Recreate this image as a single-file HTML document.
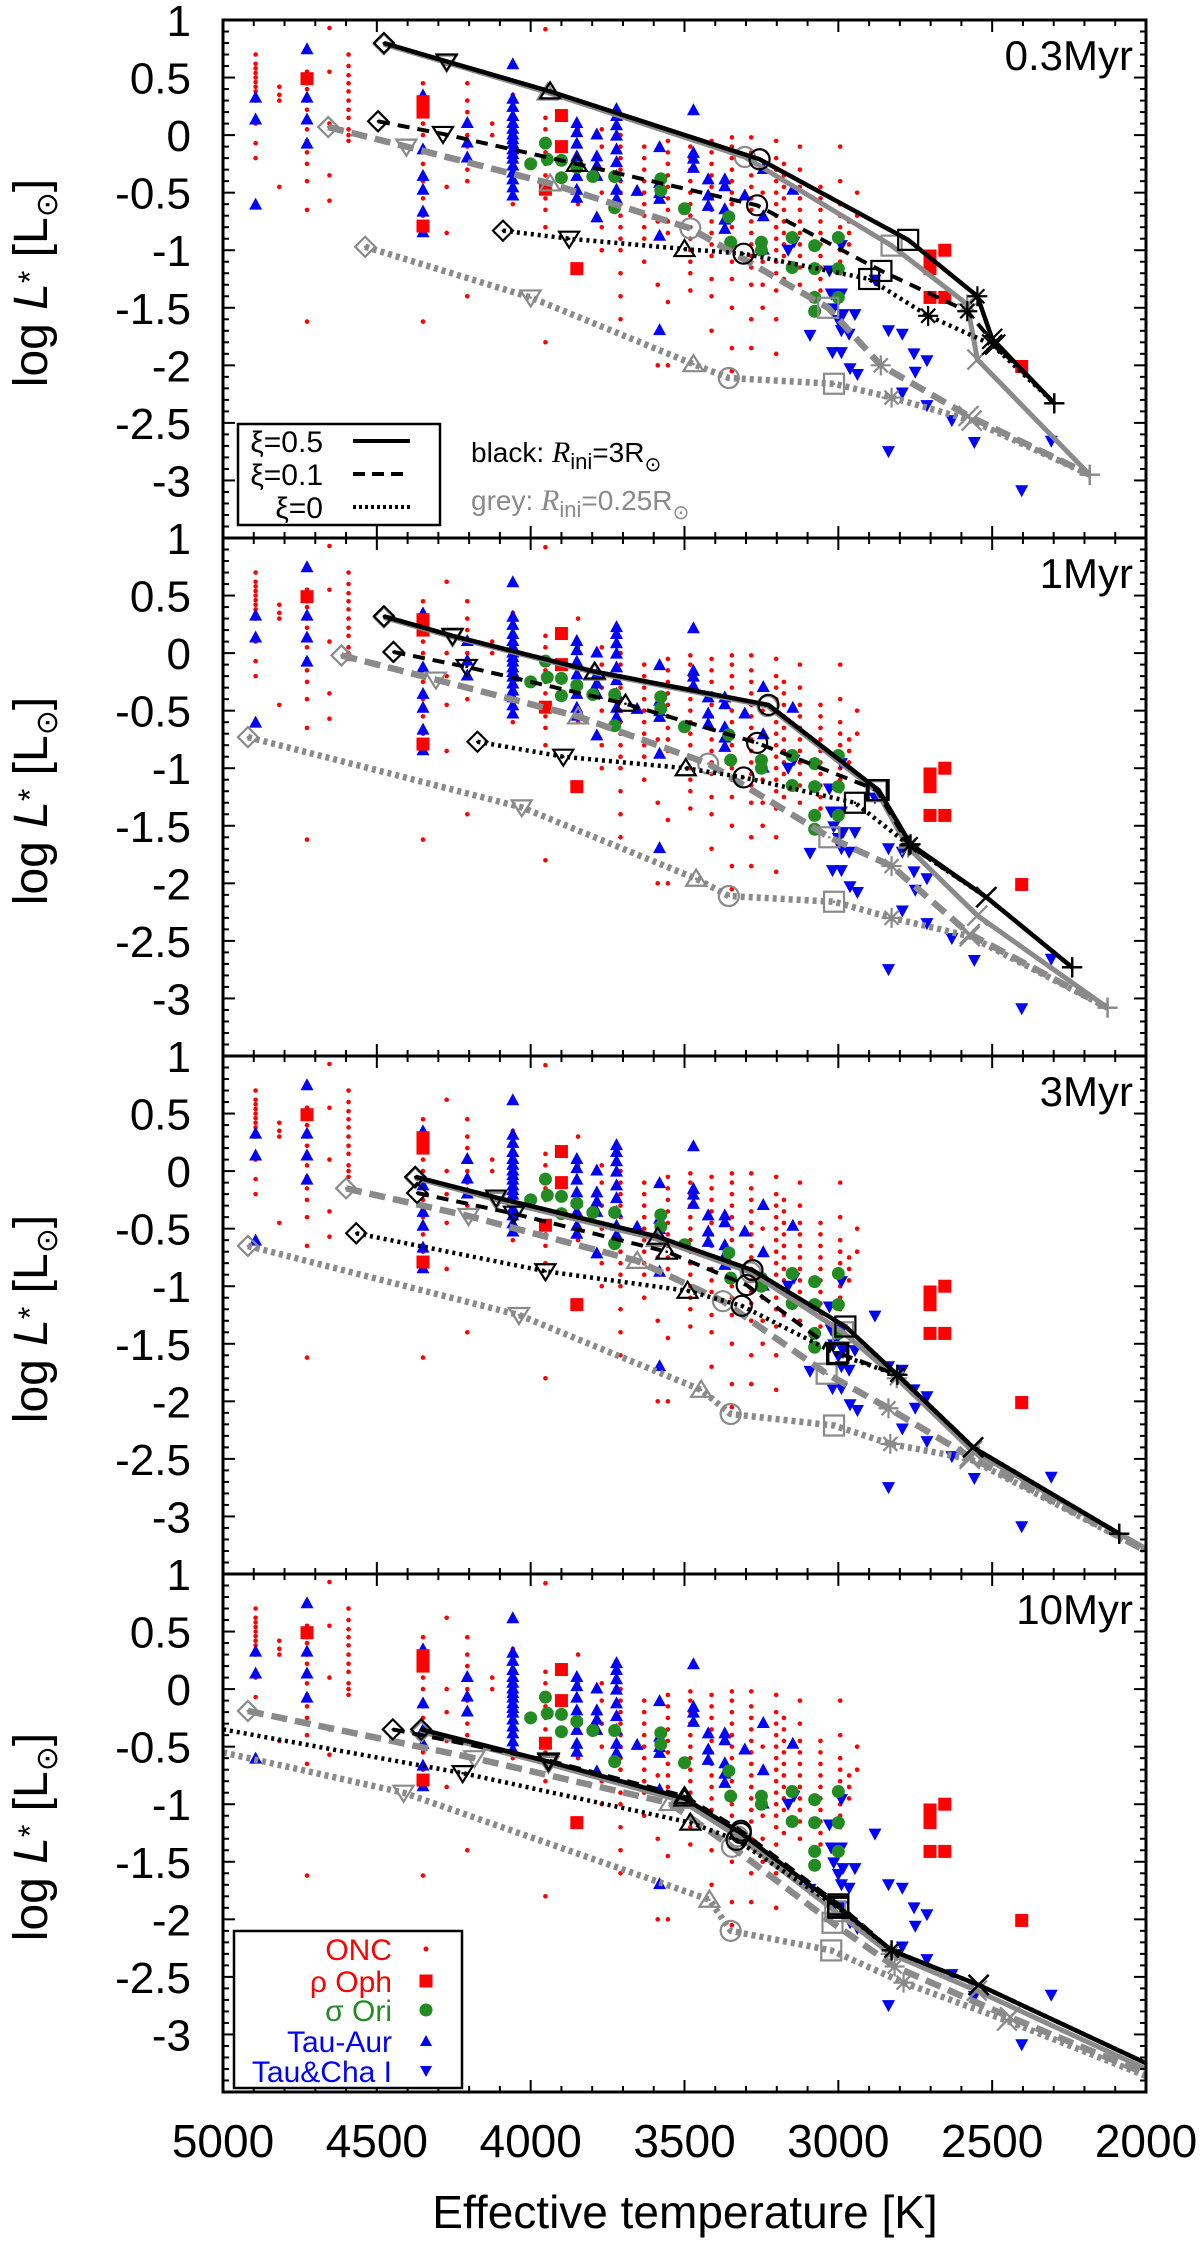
<!DOCTYPE html>
<html><head><meta charset="utf-8"><title>HR diagram panels</title>
<style>
html,body{margin:0;padding:0;background:#fff;}
svg{display:block;}
text{font-family:"Liberation Sans",sans-serif;}
</style></head>
<body>
<svg id="chart" xmlns="http://www.w3.org/2000/svg" width="1200" height="2241" viewBox="0 0 1200 2241"></svg>
<script>
// ---------- observational data ----------
const oncT = [4894,4817,4727,4654,4592,4350,4273,4206,4125,4058,3952,3846,3769,3708,3631,3587,3554,3481,3412,3346,3283,3246,3202,3177,3125,3058,2994,2965,2939];
const oncL = [
 [0.70,0.62,0.58,0.54,0.50,0.46,0.42,0.38,0.30,0.10,-0.07,-0.20],
 [0.42,0.35,0.30,-0.45],
 [0.55,0.45,0.40,0.30,0.22,0.15,0.05,-0.05,-0.15,-0.25,-0.40,-0.65,-1.62],
 [0.93,0.55,0.10,-0.35,-0.57],
 [0.70,0.60,0.52,0.45,0.38,0.30,0.22,0.15,0.05,0.0,-0.05],
 [0.45,0.35,0.20,0.10,0.0,-0.15,-0.25,-0.40,-0.55,-0.70,-0.85,-1.62],
 [0.62,0.0,-0.20,-0.45,-0.85],
 [0.45,0.30,0.20,0.10,0.0,-0.10,-0.20,-0.30,-0.40,-1.40],
 [0.10,0.0],
 [0.35,0.10,-0.20,-0.40,-0.60],
 [0.92,0.15,0.05,-0.05,-0.15,-0.25,-0.35,-0.45,-0.55,-0.65,-0.80,-1.80],
 [0.30,0.05,-0.20,-0.50,-0.60],
 [0.05,-0.10,-0.30,-0.50,-0.80,-1.00],
 [0.0,-0.1,-0.2,-0.3,-0.4,-0.5,-0.6,-0.7,-0.8,-0.9,-1.0,-1.2,-1.4,-1.6],
 [-0.1,-0.2,-0.3,-0.4,-0.5,-0.6,-0.7,-0.8,-0.9,-1.1],
 [-0.75,-1.3,-2.0],
 [-0.05,-0.15,-0.25,-0.35,-0.45,-0.55,-0.65,-0.75,-0.85,-1.45,-2.0],
 [-0.02,-0.1,-0.2,-0.3,-0.4,-0.5,-0.6,-0.7,-0.8,-0.9,-1.0,-1.1,-1.2,-1.35],
 [-0.05,-0.15,-0.25,-0.35,-0.45,-0.55,-0.65,-0.75,-0.85,-0.95,-1.05,-1.25,-1.4,-1.7],
 [-0.02,-0.1,-0.2,-0.3,-0.4,-0.5,-0.6,-0.7,-0.8,-0.9,-1.0,-1.1,-1.25,-1.5,-1.85,-2.05],
 [-0.02,-0.15,-0.25,-0.35,-0.45,-0.55,-0.65,-0.75,-0.85,-0.95,-1.05,-1.15,-1.3,-1.6,-1.85],
 [-0.3,-0.5,-0.7,-0.9,-1.1,-1.3,-1.5],
 [-0.05,-0.2,-0.3,-0.4,-0.5,-0.6,-0.7,-0.8,-0.9,-1.0,-1.1,-1.2,-1.35,-1.6,-1.9],
 [-0.25,-0.35,-0.45,-0.55,-0.65,-0.75,-0.85,-0.95,-1.05,-1.25],
 [-0.1,-0.3,-0.45,-0.55,-0.65,-0.75,-0.85,-0.95,-1.05,-1.15,-1.3],
 [-0.45,-0.55,-0.65,-0.75,-0.85,-0.95,-1.05,-1.15,-1.25,-1.35],
 [-0.1,-0.4,-0.6,-0.7,-0.8,-0.9,-1.0,-1.1,-1.2],
 [-0.75,-0.85,-0.95],
 [-0.5,-0.7]
];
const ophT = [4727,4350,4350,3900,3900,3952,4350,3850,2702,2702,2654,2702,2654,2404];
const ophL = [0.49,0.29,0.20,0.17,-0.10,-0.47,-0.79,-1.16,-1.05,-1.16,-1.00,-1.41,-1.41,-2.01];
const oriT = [3952,4000,3946,3900,3900,3850,3798,3727,3727,3577,3577,3500,3356,3350,3250,3250,3150,3150,3077,3077,3000,3000,3077,3000,3077];
const oriL = [-0.07,-0.25,-0.21,-0.22,-0.37,-0.28,-0.36,-0.36,-0.63,-0.38,-0.48,-0.64,-0.71,-0.93,-0.93,-1.00,-0.89,-1.15,-0.96,-1.16,-0.89,-1.16,-1.41,-1.41,-1.53];
const tauT = [4894,4894,4894,4727,4727,4727,4727,4350,4350,4350,4350,4350,4350,4206,4206,4206,
 4058,4058,4058,4058,4058,4058,4058,4058,4058,4058,4058,4058,4058,4058,4058,4058,4058,
 3850,3850,3850,3850,3850,3850,3850,3850,3785,3785,3785,3785,3785,
 3721,3721,3721,3721,3721,3721,3721,3721,3721,3654,3581,3581,3581,3581,3581,3581,
 3471,3471,3471,3471,3423,3423,3423,3369,3369,3369,3369,3369,3304,3244,3244,3244,3148];
const tauL = [0.33,0.14,-0.60,0.75,0.33,0.14,-0.07,0.35,-0.12,-0.35,-0.47,-0.66,-0.84,0.11,-0.06,-0.19,
 0.62,0.32,0.25,0.17,0.11,0.06,0.01,-0.03,-0.07,-0.12,-0.16,-0.20,-0.26,-0.32,-0.38,-0.45,-0.52,
 0.11,0.03,-0.07,-0.18,-0.26,-0.35,-0.47,-0.54,0.01,-0.18,-0.26,-0.35,-0.71,
 0.23,0.17,0.09,0.00,-0.12,-0.23,-0.35,-0.47,-0.55,-0.48,-0.10,-0.41,-0.50,-0.55,-0.87,-1.69,
 0.22,-0.15,-0.20,-0.28,-0.38,-0.52,-0.61,-0.38,-0.44,-0.64,-0.73,-0.81,-0.52,-0.29,-0.70,-0.99,-0.47];
const chaT = [2990,3029,3163,3144,3023,2990,3015,2985,2946,3000,2990,2965,3092,3019,2990,2962,2938,2881,2837,2792,2754,2712,2750,2792,2712,2631,2558,2837,2404,2308];
const chaL = [-0.96,-1.18,-1.00,-0.93,-1.38,-1.38,-1.51,-1.56,-1.56,-1.61,-1.70,-1.73,-1.74,-1.89,-1.89,-2.03,-2.08,-1.26,-1.70,-1.73,-1.90,-1.96,-2.06,-2.24,-2.35,-2.48,-2.67,-2.75,-3.09,-2.66];

// ---------- model tracks (per panel) ----------
const panelAges = ["0.3Myr","1Myr","3Myr","10Myr"];
const markerShapes = ["diamond","down","up","circle","square","star","cross","plus"];
// panel 1
const p1BS_T=[4477,4273,3937,3256,2773,2548,2500,2298], p1BS_L=[0.80,0.64,0.38,-0.21,-0.91,-1.40,-1.77,-2.33];
const p1GS_T=[4477,4273,3945,3304,2827,2581,2548,2183], p1GS_L=[0.79,0.63,0.37,-0.19,-0.96,-1.47,-1.95,-2.95];
const p1BD_T=[4496,4285,3850,3264,2860,2581,2490,2298], p1BD_L=[0.12,0.01,-0.25,-0.61,-1.18,-1.53,-1.82,-2.33];
const p1GD_T=[4658,4404,3937,3481,3033,2862,2577,2183], p1GD_L=[0.07,-0.10,-0.42,-0.81,-1.50,-2.00,-2.44,-2.95];
const p1BO_T=[4090,3875,3500,3308,2900,2708,2500,2298], p1BO_L=[-0.83,-0.90,-0.99,-1.03,-1.25,-1.57,-1.82,-2.33];
const p1GO_T=[4538,4000,3471,3356,3014,2827,2567,2183], p1GO_L=[-0.97,-1.41,-1.99,-2.11,-2.16,-2.28,-2.48,-2.95];
// panel 2
const p2BS_T=[4477,4254,3792,3227,2869,2765,2519,2240], p2BS_L=[0.32,0.15,-0.16,-0.45,-1.19,-1.66,-2.12,-2.73];
const p2GS_T=[4477,4254,3792,3230,2875,2773,2548,2125], p2GS_L=[0.31,0.14,-0.17,-0.46,-1.20,-1.69,-2.28,-3.08];
const p2BD_T=[4446,4208,3692,3264,2875,2769,2519,2240], p2BD_L=[0.01,-0.12,-0.44,-0.78,-1.19,-1.67,-2.12,-2.73];
const p2GD_T=[4615,4308,3846,3423,3029,2827,2573,2125], p2GD_L=[-0.02,-0.23,-0.55,-0.96,-1.60,-1.85,-2.44,-3.08];
const p2BO_T=[4173,3894,3496,3308,2946,2769,2519,2240], p2BO_L=[-0.77,-0.90,-1.00,-1.08,-1.30,-1.67,-2.12,-2.73];
const p2GO_T=[4919,4029,3462,3356,3014,2827,2573,2125], p2GO_L=[-0.73,-1.34,-1.96,-2.11,-2.16,-2.30,-2.46,-3.08];
// panel 3
const p3BS_T=[4375,4112,3587,3279,2977,2808,2562,2087], p3BS_L=[-0.05,-0.23,-0.57,-0.86,-1.35,-1.77,-2.40,-3.15];
const p3GS_T=[4375,4112,3590,3285,2985,2810,2565,2000], p3GS_L=[-0.06,-0.25,-0.59,-0.88,-1.40,-1.80,-2.43,-3.28];
const p3BD_T=[4369,4054,3558,3298,3000,2808,2562,2087], p3BD_L=[-0.19,-0.37,-0.70,-0.99,-1.58,-1.77,-2.40,-3.15];
const p3GD_T=[4600,4202,3654,3375,3038,2837,2573,2000], p3GD_L=[-0.15,-0.39,-0.78,-1.13,-1.76,-2.06,-2.48,-3.30];
const p3BO_T=[4567,3952,3490,3314,3004,2808,2562,2087], p3BO_L=[-0.54,-0.87,-1.04,-1.17,-1.59,-1.77,-2.40,-3.15];
const p3GO_T=[4919,4038,3446,3350,3014,2831,2573,2000], p3GO_L=[-0.65,-1.25,-1.90,-2.11,-2.21,-2.37,-2.50,-3.30];
// panel 4
const p4BS_T=[4356,3942,3500,3317,3000,2827,2544,2000], p4BS_L=[-0.35,-0.63,-0.95,-1.25,-1.89,-2.27,-2.57,-3.25];
const p4GS_T=[4356,3942,3510,3327,3010,2830,2550,2000], p4GS_L=[-0.37,-0.65,-0.97,-1.28,-1.93,-2.30,-2.62,-3.30];
const p4BD_T=[4448,3942,3500,3317,3000,2827,2544,2000], p4BD_L=[-0.35,-0.62,-0.93,-1.23,-1.87,-2.27,-2.57,-3.25];
const p4GD_T=[4919,4183,3548,3346,3019,2817,2442,2000], p4GD_L=[-0.19,-0.60,-0.99,-1.37,-2.03,-2.41,-2.85,-3.34];
const p4BO_T=[5000,4221,3481,3331,3000,2827,2544,2000], p4BO_L=[-0.35,-0.73,-1.16,-1.31,-1.90,-2.27,-2.57,-3.25];
const p4GO_T=[5000,4413,3419,3350,3023,2788,2452,2000], p4GO_L=[-0.55,-0.90,-1.83,-2.10,-2.27,-2.55,-2.88,-3.36];

const xTickVals = [5000,4500,4000,3500,3000,2500,2000];
const xTickLabels = ["5000","4500","4000","3500","3000","2500","2000"];
const yTickVals = [1,0.5,0,-0.5,-1,-1.5,-2,-2.5,-3];
const yTickLabels = ["1","0.5","0","-0.5","-1","-1.5","-2","-2.5","-3"];

// ---------- geometry ----------
const X0=223, X1=1146, Y0=20, PH=518, LMAX=1, LMIN=-3.5, TMAX=5000, TMIN=2000;
function xS(T){return X0+(TMAX-T)/(TMAX-TMIN)*(X1-X0);}
function yS(L,p){return Y0+p*PH+(LMAX-L)/(LMAX-LMIN)*PH;}

const NS="http://www.w3.org/2000/svg";
const svg=document.getElementById("chart");
function mk(tag,attrs,parent){const e=document.createElementNS(NS,tag);for(const k in attrs)e.setAttribute(k,attrs[k]);(parent||svg).appendChild(e);return e;}

const GREY="#8a8a8a";
const defs=mk("defs",{});
for(let p=0;p<4;p++){
  const cp=mk("clipPath",{id:"clip"+p},defs);
  mk("rect",{x:X0,y:Y0+p*PH,width:X1-X0,height:PH},cp);
}

function marker(shape,x,y,color,g,sw){
  const s=10; let e;
  if(shape==="diamond") e=mk("polygon",{points:`${x},${y-s} ${x+s},${y} ${x},${y+s} ${x-s},${y}`,fill:"none",stroke:color,"stroke-width":sw},g);
  else if(shape==="down") e=mk("polygon",{points:`${x-s},${y-s*0.7} ${x+s},${y-s*0.7} ${x},${y+s*0.9}`,fill:"none",stroke:color,"stroke-width":sw},g);
  else if(shape==="up") e=mk("polygon",{points:`${x-s},${y+s*0.7} ${x+s},${y+s*0.7} ${x},${y-s*0.9}`,fill:"none",stroke:color,"stroke-width":sw},g);
  else if(shape==="circle") e=mk("circle",{cx:x,cy:y,r:s,fill:"none",stroke:color,"stroke-width":sw},g);
  else if(shape==="square") e=mk("rect",{x:x-s,y:y-s,width:2*s,height:2*s,fill:"none",stroke:color,"stroke-width":sw},g);
  else if(shape==="star") e=mk("path",{d:`M${x-s},${y}H${x+s}M${x},${y-s}V${y+s}M${x-s*0.7},${y-s*0.7}L${x+s*0.7},${y+s*0.7}M${x-s*0.7},${y+s*0.7}L${x+s*0.7},${y-s*0.7}`,stroke:color,"stroke-width":sw},g);
  else if(shape==="cross") e=mk("path",{d:`M${x-s},${y-s}L${x+s},${y+s}M${x-s},${y+s}L${x+s},${y-s}`,stroke:color,"stroke-width":sw},g);
  else e=mk("path",{d:`M${x-s},${y}H${x+s}M${x},${y-s}V${y+s}`,stroke:color,"stroke-width":sw},g);
  if(shape!=="star"&&shape!=="cross"&&shape!=="plus") mk("circle",{cx:x,cy:y,r:1.3,fill:color},g);
  return e;
}

const styles={
  BS:{color:"#000",w:4.5,dash:"",name:"xi05-rini3"},
  GS:{color:GREY,w:5,dash:"",name:"xi05-rini025"},
  BD:{color:"#000",w:4,dash:"12 8",name:"xi01-rini3"},
  GD:{color:GREY,w:6.5,dash:"16 8",name:"xi01-rini025"},
  BO:{color:"#000",w:4.5,dash:"3 4",name:"xi0-rini3"},
  GO:{color:GREY,w:6.5,dash:"4 4",name:"xi0-rini025"}
};
const tracks=[
 {GS:[p1GS_T,p1GS_L],GD:[p1GD_T,p1GD_L],GO:[p1GO_T,p1GO_L],BS:[p1BS_T,p1BS_L],BD:[p1BD_T,p1BD_L],BO:[p1BO_T,p1BO_L]},
 {GS:[p2GS_T,p2GS_L],GD:[p2GD_T,p2GD_L],GO:[p2GO_T,p2GO_L],BS:[p2BS_T,p2BS_L],BD:[p2BD_T,p2BD_L],BO:[p2BO_T,p2BO_L]},
 {GS:[p3GS_T,p3GS_L],GD:[p3GD_T,p3GD_L],GO:[p3GO_T,p3GO_L],BS:[p3BS_T,p3BS_L],BD:[p3BD_T,p3BD_L],BO:[p3BO_T,p3BO_L]},
 {GS:[p4GS_T,p4GS_L],GD:[p4GD_T,p4GD_L],GO:[p4GO_T,p4GO_L],BS:[p4BS_T,p4BS_L],BD:[p4BD_T,p4BD_L],BO:[p4BO_T,p4BO_L]}
];

for(let p=0;p<4;p++){
  const pg=mk("g",{});
  
  
  const data=mk("g",{"clip-path":`url(#clip${p})`},pg);
  
  
  const g1=mk("g",{},data);
  
  
  oncT.forEach((T,i)=>oncL[i].forEach(L=>{
    const c=mk("circle",{cx:xS(T),cy:yS(L,p),r:2.3,fill:"#f00"},g1);
    
    
  }));
  const g2=mk("g",{},data);
  
  
  tauT.forEach((T,i)=>{const x=xS(T),y=yS(tauL[i],p);
    const e=mk("polygon",{points:`${x-6.5},${y+5.5} ${x+6.5},${y+5.5} ${x},${y-6.5}`,fill:"#0000ff"},g2);
    
    });
  const g3=mk("g",{},data);
  
  
  chaT.forEach((T,i)=>{const x=xS(T),y=yS(chaL[i],p);
    const e=mk("polygon",{points:`${x-6.5},${y-5.5} ${x+6.5},${y-5.5} ${x},${y+6.5}`,fill:"#0000ff"},g3);
    
    });
  const g4=mk("g",{},data);
  
  
  ophT.forEach((T,i)=>{const x=xS(T),y=yS(ophL[i],p);
    const e=mk("rect",{x:x-6.5,y:y-6.5,width:13,height:13,fill:"#f00"},g4);
    
    });
  const g5=mk("g",{},data);
  
  
  oriT.forEach((T,i)=>{
    const e=mk("circle",{cx:xS(T),cy:yS(oriL[i],p),r:6.5,fill:"#228b22"},g5);
    
    });
  ["GS","GD","GO","BS","BD","BO"].forEach(key=>{
    const st=styles[key]; const [Ts,Ls]=tracks[p][key];
    const g=mk("g",{},data);
    
    
    const pts=Ts.map((T,i)=>xS(T)+","+yS(Ls[i],p)).join(" ");
    const pl=mk("polyline",{points:pts,fill:"none",stroke:st.color,"stroke-width":st.w,"stroke-dasharray":st.dash,"stroke-linejoin":"round"},g);
    
    
    Ts.forEach((T,i)=>{
      if(T>=TMAX||T<=TMIN) return;
      const m=marker(markerShapes[i],xS(T),yS(Ls[i],p),st.color,g,2.2);
      
      
    });
  });
  const tk=mk("g",{stroke:"#000","stroke-width":2},pg);
  
  
  const top=Y0+p*PH, bot=top+PH;
  for(let T=5000;T>=2000;T-=100){
    const x=xS(T), len=(T%500===0)?12:6;
    mk("line",{x1:x,y1:top,x2:x,y2:top+len},tk);
    mk("line",{x1:x,y1:bot,x2:x,y2:bot-len},tk);
  }
  for(let k=10;k>=-35;k--){
    const L=k/10, y=yS(L,p), len=(k%5===0)?12:6;
    mk("line",{x1:X0,y1:y,x2:X0+len,y2:y},tk);
    mk("line",{x1:X1,y1:y,x2:X1-len,y2:y},tk);
  }
  yTickVals.forEach((v,i)=>{
    const t=mk("text",{x:191,y:yS(v,p)+16,"text-anchor":"end","font-size":44},pg);
    t.textContent=yTickLabels[i];
    
    
  });
  const cy=top+PH/2+4;
  const yt=mk("text",{x:0,y:0,transform:`translate(47,${cy}) rotate(-90)`,"text-anchor":"middle","font-size":48},pg);
  
  
  yt.innerHTML='log <tspan font-style="italic">L</tspan><tspan font-size="32" dy="-6">*</tspan><tspan dy="6"> [L</tspan><tspan font-family="DejaVu Sans" font-size="30" dy="10">⊙</tspan><tspan dy="-10">]</tspan>';
  const al=mk("text",{x:1133,y:top+50,"text-anchor":"end","font-size":42},pg);
  al.textContent=panelAges[p];
  
  
  const fr=mk("rect",{x:X0,y:top,width:X1-X0,height:PH,fill:"none",stroke:"#000","stroke-width":3},pg);
  
  
}

xTickVals.forEach((v,i)=>{
  const t=mk("text",{x:xS(v),y:2157,"text-anchor":"middle","font-size":46});
  t.textContent=xTickLabels[i];
  
  
});
const xt=mk("text",{x:685,y:2228,"text-anchor":"middle","font-size":46});
xt.textContent="Effective temperature [K]";



const lg=mk("g",{});


mk("rect",{x:238,y:424,width:202,height:101,fill:"#fff",stroke:"#000","stroke-width":2.5},lg);
const lgLab=["ξ=0.5","ξ=0.1","ξ=0"], lgBase=[452,485,518], lgLineY=[441,474,507], lgDash=["","12 7","3 3"];
lgLab.forEach((s,i)=>{
  const t=mk("text",{x:323,y:lgBase[i],"text-anchor":"end","font-size":30,"font-family":"Liberation Serif, serif"},lg);
  t.textContent=s;
  
  
  const l=mk("line",{x1:353,y1:lgLineY[i],x2:410,y2:lgLineY[i],stroke:"#000","stroke-width":4,"stroke-dasharray":lgDash[i]},lg);
  
  
});
const bt=mk("text",{x:471,y:462,"font-size":28});


bt.innerHTML='black: <tspan font-family="Liberation Serif, serif" font-style="italic" font-size="30">R</tspan><tspan font-size="22" dy="7">ini</tspan><tspan dy="-7">=3R</tspan><tspan font-family="DejaVu Sans" font-size="20" dy="9">⊙</tspan>';
const gt=mk("text",{x:471,y:510,"font-size":28,fill:GREY});


gt.innerHTML='grey: <tspan font-family="Liberation Serif, serif" font-style="italic" font-size="30">R</tspan><tspan font-size="22" dy="7">ini</tspan><tspan dy="-7">=0.25R</tspan><tspan font-family="DejaVu Sans" font-size="20" dy="9">⊙</tspan>';

const dl=mk("g",{});


mk("rect",{x:234,y:1931,width:228,height:157,fill:"#fff",stroke:"#000","stroke-width":2.5},dl);
const dsNames=["ONC","ρ Oph","σ Ori","Tau-Aur","Tau&Cha I"], dsCol=["#f00","#f00","#228b22","#00f","#00f"], dsY=[1949,1981,2010,2041,2071];
dsNames.forEach((s,i)=>{
  const t=mk("text",{x:392,y:dsY[i]+11,"text-anchor":"end","font-size":30,fill:dsCol[i]},dl);
  t.textContent=s;
  
  
  const x=426,y=dsY[i]; let m;
  if(i===0) m=mk("circle",{cx:x,cy:y,r:2.5,fill:dsCol[i]},dl);
  else if(i===1) m=mk("rect",{x:x-6.5,y:y-6.5,width:13,height:13,fill:dsCol[i]},dl);
  else if(i===2) m=mk("circle",{cx:x,cy:y,r:6.5,fill:dsCol[i]},dl);
  else if(i===3) m=mk("polygon",{points:`${x-6},${y+5} ${x+6},${y+5} ${x},${y-6}`,fill:dsCol[i]},dl);
  else m=mk("polygon",{points:`${x-6},${y-5} ${x+6},${y-5} ${x},${y+6}`,fill:dsCol[i]},dl);
  
  
});
</script>
</body></html>
